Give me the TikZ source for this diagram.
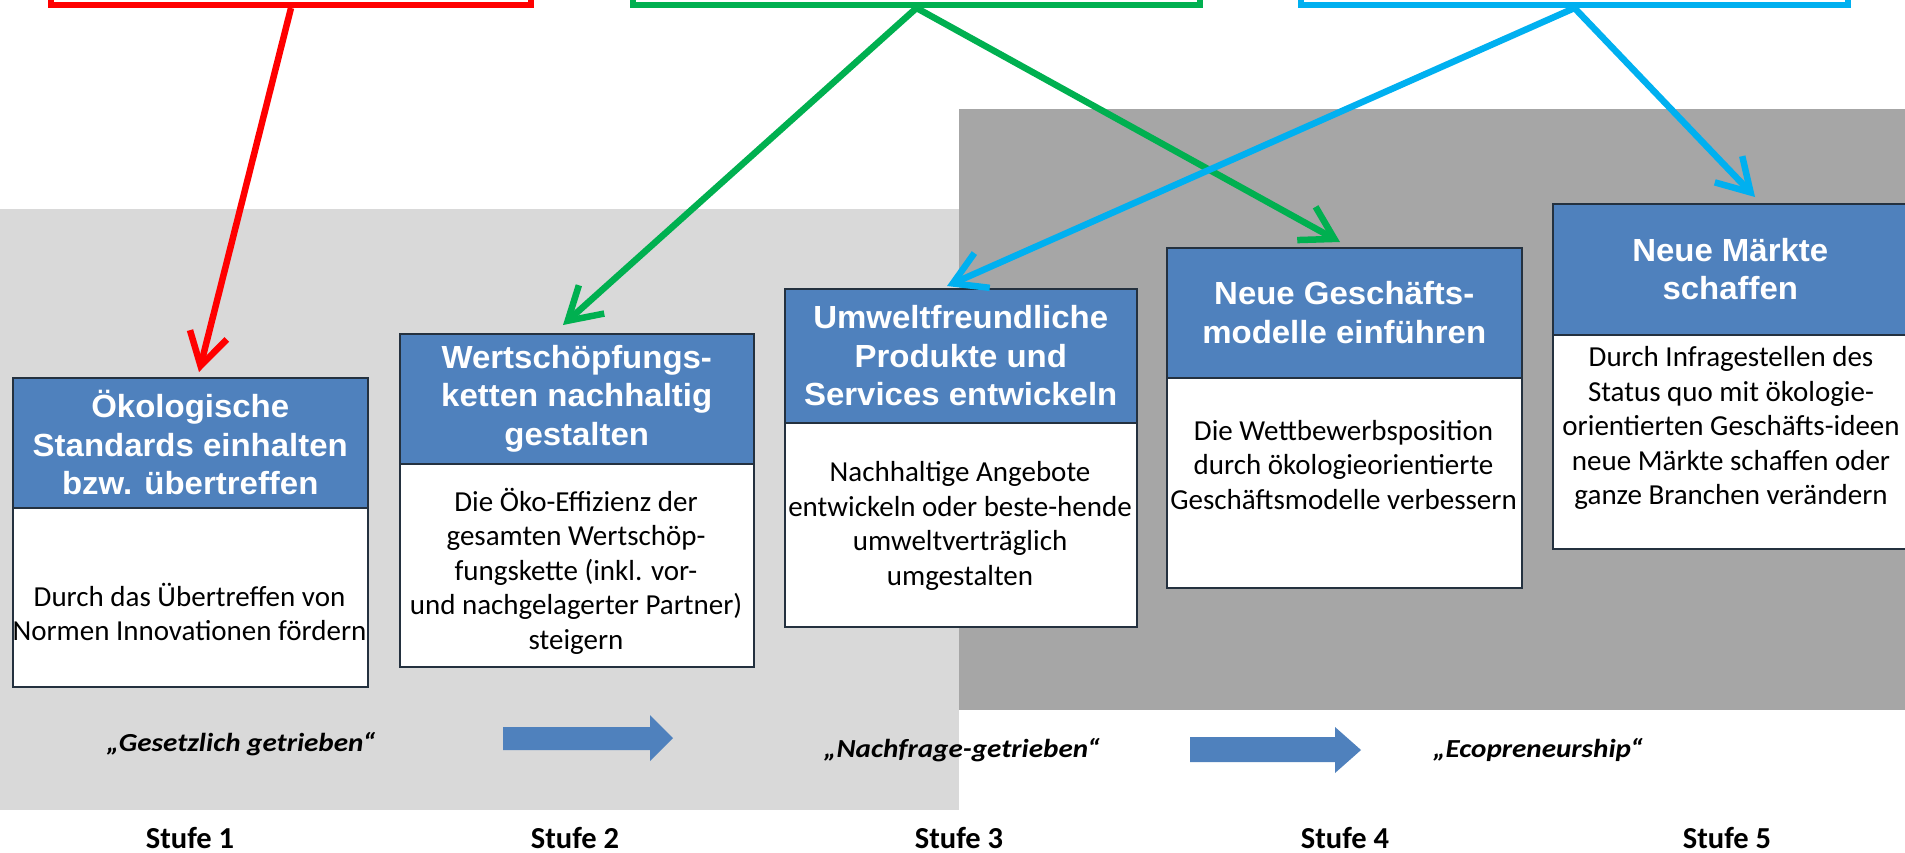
\documentclass[tikz,border=0pt]{standalone}
\usepackage{fontspec}
\setmainfont{Carlito}
\newfontfamily\hdfont[FakeStretch=1.03]{Liberation Sans}
\newfontfamily\lblfont[FakeStretch=1.12]{Carlito}
\usetikzlibrary{arrows.meta}
\definecolor{hdrblue}{HTML}{4F81BD}
\definecolor{lgray}{HTML}{D9D9D9}
\definecolor{dgray}{HTML}{A6A6A6}
\definecolor{cred}{HTML}{FF0000}
\definecolor{cgreen}{HTML}{00B050}
\definecolor{cblue}{HTML}{00B0F0}
\definecolor{edgec}{HTML}{24313F}
\begin{document}
\begin{tikzpicture}[x=1pt,y=-1pt,
  hdr/.style={draw=edgec, line width=1.5pt, fill=hdrblue, inner sep=0pt, anchor=north west,
    text=white, align=center, font=\hdfont\bfseries\fontsize{32}{38.5}\selectfont},
  bodybox/.style={draw=edgec, line width=1.5pt, fill=white, inner sep=0pt, anchor=north west},
  bodytxt/.style={align=center, inner sep=0pt, font=\fontsize{29}{34.5}\selectfont},
  topbox/.style={line width=6pt, minimum height=80pt, anchor=south, inner sep=0pt},
  conn/.style={line width=6.5pt, -{Straight Barb[length=32pt,width=38pt]}},
  lbl/.style={font=\lblfont\bfseries\itshape\fontsize{26}{30}\selectfont, inner sep=0pt},
  stufe/.style={font=\bfseries\fontsize{30.5}{36}\selectfont, inner sep=0pt, anchor=base},
  blockarrow/.style={fill=hdrblue}
]
\useasboundingbox (0,0) rectangle (1905,852);
\clip (0,0) rectangle (1905,852);
\fill[white] (0,0) rectangle (1905,852);
% background regions
\fill[lgray] (0,209) rectangle (959,810);
\fill[dgray] (959,109) rectangle (1905,710);

% top boxes (cut by the upper edge)
\node[topbox, draw=cred, minimum width=480pt] (topR) at (291,8) {};
\node[topbox, draw=cgreen, minimum width=567pt] (topG) at (916.5,8) {};
\node[topbox, draw=cblue, minimum width=547pt] (topB) at (1574.5,8) {};

% stage boxes
\node[hdr, minimum width=355pt, minimum height=130pt] (h1) at (12,377)
  {Ökologische\\Standards einhalten\\bzw. übertreffen};
\node[bodybox, minimum width=355pt, minimum height=179pt] (b1) at (12,507) {};
\node[hdr, minimum width=354pt, minimum height=130pt] (h2) at (399,333)
  {Wertschöpfungs-\\ketten nachhaltig\\gestalten};
\node[bodybox, minimum width=354pt, minimum height=203pt] (b2) at (399,463) {};
\node[hdr, minimum width=352pt, minimum height=134pt] (h3) at (784,288)
  {Umweltfreundliche\\Produkte und\\Services entwickeln};
\node[bodybox, minimum width=352pt, minimum height=204pt] (b3) at (784,422) {};
\node[hdr, minimum width=355pt, minimum height=130pt] (h4) at (1166,247)
  {Neue Geschäfts-\\modelle einführen};
\node[bodybox, minimum width=355pt, minimum height=210pt] (b4) at (1166,377) {};
\node[hdr, minimum width=355pt, minimum height=131pt] (h5) at (1552,203)
  {Neue Märkte\\schaffen};
\node[bodybox, minimum width=355pt, minimum height=214pt] (b5) at (1552,334) {};

% body texts
\node[bodytxt] (t1) at (189.5,612) {Durch das Übertreffen von\\Normen Innovationen fördern};
\node[bodytxt] (t2) at (576,571) {Die Öko-Effizienz der\\gesamten Wertschöp-\\fungskette (inkl. vor-\\und nachgelagerter Partner)\\steigern};
\node[bodytxt] (t3) at (960,526) {Nachhaltige Angebote\\entwickeln oder beste-hende\\umweltverträglich\\umgestalten};
\node[bodytxt] (t4) at (1343.5,465) {Die Wettbewerbsposition\\durch ökologieorientierte\\Geschäftsmodelle verbessern};
\node[bodytxt] (t5) at (1731,428) {Durch Infragestellen des\\Status quo mit ökologie-\\orientierten Geschäfts-ideen\\neue Märkte schaffen oder\\ganze Branchen verändern};

% arrow end points
\coordinate (e1) at (199,372);
\coordinate (e2) at (563,325);
\coordinate (e3) at (947,286);
\coordinate (e4) at (1340,242);
\coordinate (e5) at (1755,197);

% connectors
\draw[conn, cred] (topR.south) -- (e1);
\draw[conn, cgreen] (topG.south) -- (e2);
\draw[conn, cgreen] (topG.south) -- (e4);
\draw[conn, cblue] (topB.south) -- (e3);
\draw[conn, cblue] (topB.south) -- (e5);

% block arrows
\fill[blockarrow] (503,727) -- (650,727) -- (650,715) -- (673,738) -- (650,761) -- (650,750) -- (503,750) -- cycle;
\fill[blockarrow] (1190,737) -- (1335,737) -- (1335,727) -- (1361,750) -- (1335,773) -- (1335,762) -- (1190,762) -- cycle;

% labels
\node[lbl] (l1) at (241,744) {„Gesetzlich getrieben“};
\node[lbl] (l2) at (962,750) {„Nachfrage-getrieben“};
\node[lbl] (l3) at (1538,750) {„Ecopreneurship“};

\node[stufe] (s1) at (190,848) {Stufe 1};
\node[stufe] (s2) at (575,848) {Stufe 2};
\node[stufe] (s3) at (959,848) {Stufe 3};
\node[stufe] (s4) at (1345,848) {Stufe 4};
\node[stufe] (s5) at (1727,848) {Stufe 5};
\end{tikzpicture}
\end{document}
